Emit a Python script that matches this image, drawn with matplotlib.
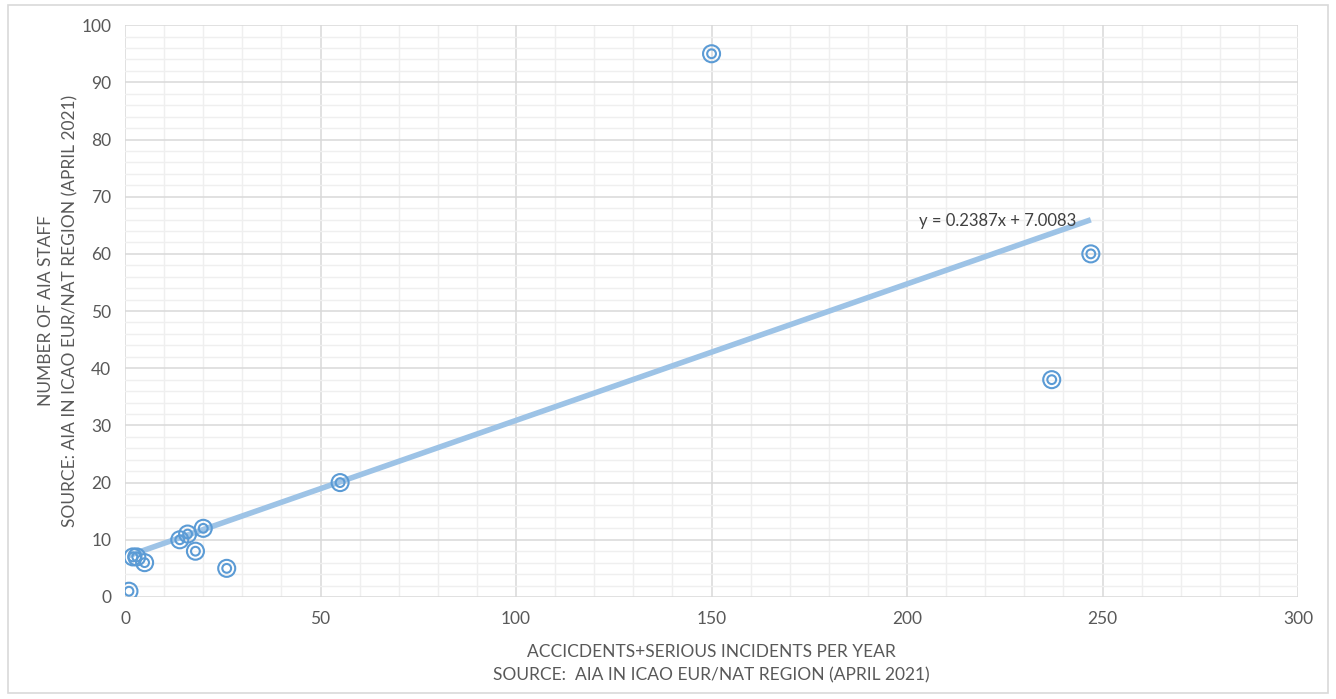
"""
Scatter of AIA staff vs accidents + serious incidents, with linear trendline.
"""

import matplotlib.pyplot as plt
from matplotlib.patches import Rectangle
from matplotlib.ticker import MultipleLocator

# data
incidents = [1, 2, 3, 5, 14, 16, 18, 20, 26, 55, 150, 237, 247]
staff = [1, 7, 7, 6, 10, 11, 8, 12, 5, 20, 95, 38, 60]

# trendline as printed on the chart
slope = 0.2387
intercept = 7.0083
eq_label = "y = 0.2387x + 7.0083"

x_label = "ACCICDENTS+SERIOUS INCIDENTS PER YEAR\nSOURCE:  AIA IN ICAO EUR/NAT REGION (APRIL 2021)"
y_label = "NUMBER OF AIA STAFF\nSOURCE: AIA IN ICAO EUR/NAT REGION (APRIL 2021)"

plt.rcParams["font.family"] = ["Lato", "DejaVu Sans"]

fig = plt.figure(figsize=(13.36, 6.99), dpi=100)
ax = fig.add_axes([0.0936, 0.146, 0.8780, 0.818])

# figure border like the Excel chart area
fig.patches.append(Rectangle((0.006, 0.008), 0.988, 0.985, transform=fig.transFigure,
                             fill=False, edgecolor="#d9d9d9", linewidth=1.2))

ax.set_xlim(0, 300)
ax.set_ylim(0, 100)
ax.xaxis.set_major_locator(MultipleLocator(50))
ax.xaxis.set_minor_locator(MultipleLocator(10))
ax.yaxis.set_major_locator(MultipleLocator(10))
ax.yaxis.set_minor_locator(MultipleLocator(2))
ax.grid(which="major", color="#d9d9d9", linewidth=1.1)
ax.grid(which="minor", color="#efefef", linewidth=1.0)
ax.set_axisbelow(True)
for s in ax.spines.values():
    s.set_visible(False)
ax.tick_params(which="both", length=0, labelsize=12.5, colors="#595959", pad=10)

# trendline over the data range
x0, x1 = min(incidents), max(incidents)
ax.plot([x0, x1], [slope * x0 + intercept, slope * x1 + intercept],
        color="#9dc3e6", linewidth=4.0, solid_capstyle="butt", zorder=2)
ax.text(203, slope * 247 + intercept - 1.6, eq_label, fontsize=12, color="#404040",
        ha="left", va="bottom", zorder=3)

# double-ring markers
ax.scatter(incidents, staff, s=150, facecolors="none", edgecolors="#5b9bd5", linewidths=1.5, zorder=3)
ax.scatter(incidents, staff, s=40, facecolors="none", edgecolors="#5b9bd5", linewidths=1.5, zorder=3)

ax.set_xlabel(x_label, fontsize=12.5, color="#595959", linespacing=1.6, labelpad=12)
ax.set_ylabel(y_label, fontsize=12.5, color="#595959", linespacing=1.6, labelpad=2)

fig.savefig("out.png", dpi=100)
plt.close(fig)
